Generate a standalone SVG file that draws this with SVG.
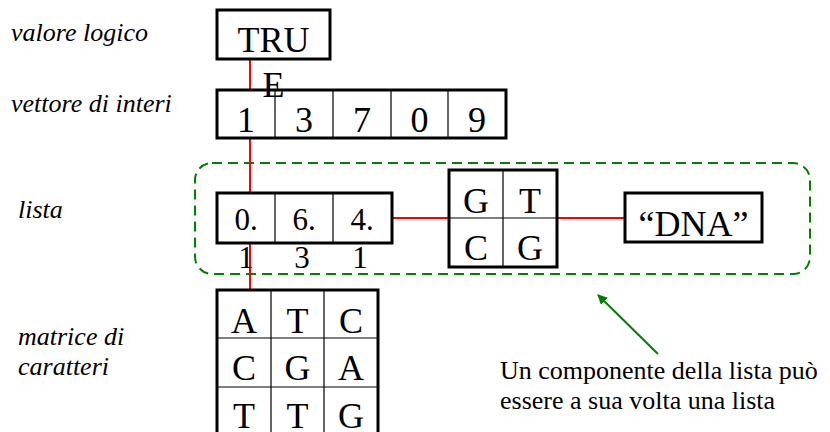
<svg xmlns="http://www.w3.org/2000/svg" width="830" height="432" viewBox="0 0 830 432">
<style>
.box{fill:#fff;stroke:#000;stroke-width:3}
.div{stroke:#000;stroke-width:1.2;fill:none}
.big{font-family:"Liberation Serif","Times New Roman",serif;font-size:36px;fill:#000;text-anchor:middle}
.mid{font-family:"Liberation Serif","Times New Roman",serif;font-size:31px;fill:#000;text-anchor:middle}
.lab{font-family:"Liberation Serif","Times New Roman",serif;font-size:26px;font-style:italic;fill:#000}
.note{font-family:"Liberation Serif","Times New Roman",serif;font-size:26px;fill:#000}
.conn{stroke:#ff0000;stroke-width:2;fill:none}
</style>
<defs>
<marker id="ah" markerWidth="10" markerHeight="10" refX="9" refY="5" orient="auto" markerUnits="userSpaceOnUse" viewBox="0 0 10 10">
<path d="M0,0 L10,5 L0,10 z" fill="#008000"/>
</marker>
</defs>
<rect width="830" height="432" fill="#fff"/>

<g id="labels">
<text class="lab" x="11" y="41">valore logico</text>
<text class="lab" x="11" y="112">vettore di interi</text>
<text class="lab" x="18" y="218">lista</text>
<text class="lab" x="18" y="345">matrice di</text>
<text class="lab" x="18" y="375">caratteri</text>
</g>

<g id="group-list">
<rect x="195" y="163" width="615" height="111" rx="17" ry="17" fill="none" stroke="#008000" stroke-width="2" stroke-dasharray="10,6"/>
</g>

<g id="connectors">
<line class="conn" x1="250" y1="59" x2="250" y2="290"/>
<line class="conn" x1="392" y1="218" x2="449" y2="218"/>
<line class="conn" x1="557" y1="218" x2="625" y2="218"/>
<line x1="658" y1="354" x2="598" y2="295" stroke="#008000" stroke-width="2" marker-end="url(#ah)"/>
</g>

<g id="node-logical">
<rect class="box" x="217" y="10" width="113" height="49"/>
<text class="big" x="273.5" y="52">TRU</text>
</g>

<g id="node-vector">
<rect class="box" x="217" y="90" width="289" height="48"/>
<path class="div" d="M275,90V138M333,90V138M391,90V138M448,90V138"/>
<text class="big" x="246" y="132">1</text>
<text class="big" x="304" y="132">3</text>
<text class="big" x="362" y="132">7</text>
<text class="big" x="419.5" y="132">0</text>
<text class="big" x="477" y="132">9</text>
</g>
<text class="big" x="273.5" y="97">E</text>

<g id="node-list">
<rect class="box" x="217" y="193" width="175" height="50"/>
<path class="div" d="M275,193V243M333,193V243"/>
<text class="mid" x="246" y="230">0.</text>
<text class="mid" x="304" y="230">6.</text>
<text class="mid" x="362" y="230">4.</text>
<text class="mid" x="246" y="268">1</text>
<text class="mid" x="302" y="268">3</text>
<text class="mid" x="360" y="268">1</text>
</g>

<g id="node-gt">
<rect class="box" x="449" y="170" width="108" height="97"/>
<path class="div" d="M503,170V267M449,218H557"/>
<text class="big" x="476" y="213">G</text>
<text class="big" x="530" y="213">T</text>
<text class="big" x="476" y="260">C</text>
<text class="big" x="530" y="260">G</text>
</g>

<g id="node-dna">
<rect class="box" x="625" y="193" width="137" height="49"/>
<text class="big" x="693.5" y="236">“DNA”</text>
</g>

<g id="node-matrix">
<rect class="box" x="217" y="290" width="161" height="146"/>
<path class="div" d="M271,290V436M324,290V436M217,338H378M217,387H378"/>
<text class="big" x="244" y="333">A</text>
<text class="big" x="297.5" y="333">T</text>
<text class="big" x="351" y="333">C</text>
<text class="big" x="244" y="380">C</text>
<text class="big" x="297.5" y="380">G</text>
<text class="big" x="351" y="380">A</text>
<text class="big" x="244" y="428">T</text>
<text class="big" x="297.5" y="428">T</text>
<text class="big" x="351" y="428">G</text>
</g>

<g id="note">
<text class="note" x="500" y="379">Un componente della lista può</text>
<text class="note" x="500" y="409">essere a sua volta una lista</text>
</g>
</svg>
